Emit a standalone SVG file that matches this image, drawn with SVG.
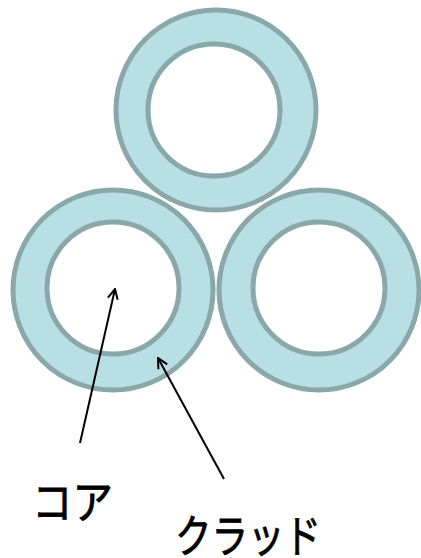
<svg xmlns="http://www.w3.org/2000/svg" width="421" height="558" viewBox="0 0 421 558">
<style>
.outer{fill:#b8dfe3;stroke:#8aa8aa;stroke-width:5}
.inner{fill:#ffffff;stroke:#8aa8aa;stroke-width:5}
.lbl{font-family:"Noto Sans CJK JP",sans-serif;font-size:45px;fill:#000;stroke:#000;stroke-width:0.8}
.ln{stroke:#000;stroke-width:2;fill:none}
</style>
<defs>
<marker id="ah" markerWidth="12" markerHeight="12" refX="11" refY="6" orient="auto" markerUnits="userSpaceOnUse">
<path d="M1,1 L11,6 L1,11" fill="none" stroke="#000" stroke-width="2"/>
</marker>
</defs>
<g id="fiber-top"><circle class="outer" cx="216" cy="110" r="100"/><circle class="inner" cx="214" cy="110" r="66"/></g>
<g id="fiber-left"><circle class="outer" cx="113" cy="290" r="100"/><circle class="inner" cx="113" cy="288" r="66"/></g>
<g id="fiber-right"><circle class="outer" cx="319" cy="290" r="100"/><circle class="inner" cx="319" cy="288" r="66"/></g>
<g id="connectors">
<line class="ln" x1="80" y1="443" x2="115" y2="289" marker-end="url(#ah)"/>
<line class="ln" x1="224" y1="479" x2="158" y2="358" marker-end="url(#ah)"/>
</g>
<g id="label-core"><text class="lbl" x="32" y="519" textLength="81" lengthAdjust="spacingAndGlyphs">コア</text></g>
<g id="label-clad"><text class="lbl" x="175" y="553" textLength="146" lengthAdjust="spacingAndGlyphs">クラッド</text></g>
</svg>
